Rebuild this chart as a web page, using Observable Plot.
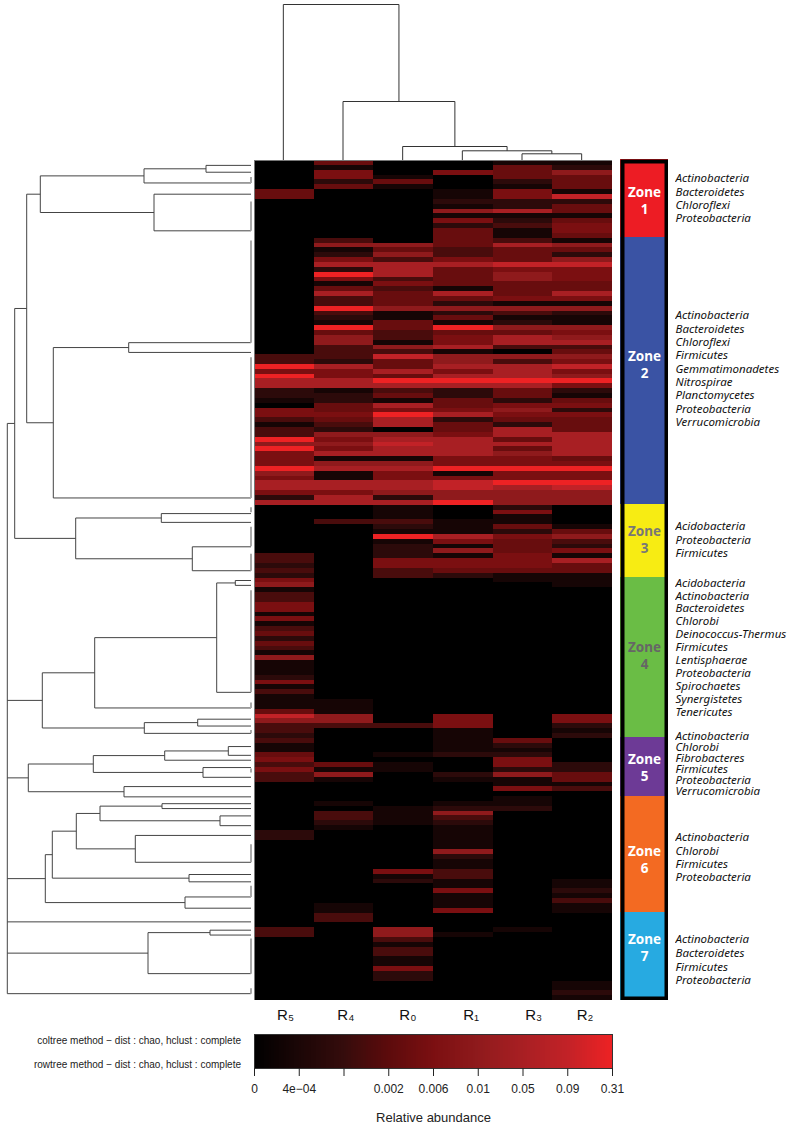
<!DOCTYPE html>
<html><head><meta charset="utf-8">
<script src="https://cdn.jsdelivr.net/npm/d3@7"></script>
<script src="https://cdn.jsdelivr.net/npm/@observablehq/plot@0.6"></script>
<style>
html,body{margin:0;padding:0;background:#fff}
#page{position:relative;width:792px;height:1130px;overflow:hidden;font-family:"Liberation Sans",Arial,sans-serif}
#page>svg,#page>figure{position:absolute;margin:0}
.note{position:absolute;font-size:10px;line-height:12px;color:#222;white-space:nowrap;text-align:right;width:241px;left:0}
</style></head><body><div id="page"></div>
<script>
// ---- values ----
const columns = ["R5","R4","R0","R1","R3","R2"];
const columnLabels = ["R₅","R₄","R₀","R₁","R₃","R₂"];
// tick values of the colour key (equally spaced along it)
const keyValues = [0,4e-4,0.001,0.002,0.006,0.01,0.05,0.09,0.31];
const keyLabels = ["0","4e−04","","0.002","0.006","0.01","0.05","0.09","0.31"];
const keyColors = ["#000000","#1b0606","#350c0c","#5c0b0c","#7b0f11","#8f1a1c","#a81f23","#c22227","#ee2224"];
// estimated abundance classes used in the row lists below
const abundanceClass = [0,3.2e-4,8e-4,0.0015,0.0035,0.006,0.01,0.05,0.09,0.31];

const R5 = [0,0,0,0,0,0,4,4,
0,0,0,0,0,0,0,0,0,0,0,0,0,0,0,0,0,0,0,0,0,0,0,0,0,0,0,0,0,0,0,0,
3,3,9,5,
9,7,7,2,2,1,0,5,5,3,1,3,3,9,6,9,5,5,5,9,6,5,7,7,5,2,7,
0,0,0,0,0,0,0,0,0,0,
3,3,2,3,2,5,6,
1,3,3,5,5,1,5,1,3,4,2,4,3,1,6,1,1,1,2,5,1,3,1,1,1,4,8,6,3,3,2,3,1,1,4,5,3,5,3,3,
0,0,0,0,0,0,0,0,0,0,
2,2,
0,0,0,0,0,0,0,0,0,0,0,0,0,0,0,0,0,0,
3,3,
0,0,0,0,0,0,0,0,0,0,0,0,0];
const R4 = [4,1,5,5,2,4,
0,0,0,0,0,0,0,0,0,0,
3,6,1,2,5,7,2,9,5,1,4,7,3,3,9,3,2,1,9,4,6,6,3,3,3,2,7,5,
5,7,7,1,2,2,4,4,5,4,3,2,6,5,6,5,7,1,6,7,1,1,7,7,5,7,7,
0,0,0,3,
0,0,0,0,0,0,0,0,0,0,0,0,0,0,0,0,0,0,0,0,0,0,0,0,0,0,0,0,0,0,0,0,0,0,0,0,
1,1,1,6,6,3,
0,0,0,0,0,0,0,
4,1,6,1,
0,0,0,0,1,0,3,3,2,1,
0,0,0,0,0,0,0,0,0,0,0,0,0,0,0,
1,1,3,3,
0,0,0,0,0,0,0,0,0,0,0,0,0,0,0,0];
const R0 = [0,0,0,1,4,1,
0,0,0,0,0,0,0,0,0,0,0,
6,4,6,3,7,7,7,3,5,3,4,4,4,6,1,1,4,4,3,3,1,6,3,8,4,4,7,
4,9,7,3,4,1,7,5,9,7,7,0,6,7,8,7,7,1,6,7,5,5,7,7,6,2,7,
1,1,1,3,2,1,9,1,2,2,2,5,5,3,3,
0,0,0,0,0,0,0,0,0,0,0,0,0,0,0,0,0,0,0,0,0,0,0,0,0,0,0,0,0,0,
3,0,0,0,0,0,1,0,1,1,
0,0,0,0,0,0,0,
1,1,1,1,
0,0,0,0,0,0,0,0,0,
5,1,2,
0,0,0,0,0,0,0,0,0,
6,6,3,1,3,3,1,1,5,2,2,
0,0,0,0];
const R1 = [0,0,5,0,0,0,1,1,2,1,6,1,5,2,4,4,4,4,3,3,5,7,4,4,4,4,1,7,4,2,6,2,4,1,9,4,5,5,7,1,6,6,7,5,
7,9,7,2,2,4,4,5,7,2,4,4,5,7,7,7,7,5,5,9,1,5,8,8,6,6,9,
0,0,0,1,1,1,7,5,1,6,1,5,5,4,2,
0,0,0,0,0,0,0,0,0,0,0,0,0,0,0,0,0,0,0,0,0,0,0,0,0,0,0,0,
5,5,5,1,1,1,1,1,2,
0,0,0,2,1,
0,0,0,0,
1,2,6,3,2,1,1,1,1,1,6,2,1,1,3,3,1,1,5,1,1,1,5,
0,0,0,0,1,
0,0,0,0,0,0,0,0,0,0,0,0,0];
const R3 = [1,4,4,4,2,1,5,5,2,2,7,1,2,3,1,1,3,7,4,4,4,8,5,6,6,4,4,4,5,1,6,3,1,2,6,4,7,7,3,0,6,3,7,7,
7,9,7,4,4,2,5,6,5,4,2,7,7,4,7,4,6,5,5,9,5,5,9,7,6,6,6,
2,5,1,1,4,2,5,4,4,4,5,5,5,4,1,1,
0,0,0,0,0,0,0,0,0,0,0,0,0,0,0,0,0,0,0,0,0,0,0,0,0,0,0,0,0,0,0,0,
4,2,1,2,5,5,2,6,1,1,5,0,1,1,2,
0,0,0,0,0,0,0,0,0,0,0,0,0,0,0,0,0,0,0,0,0,0,0,0,
1,
0,0,0,0,0,0,0,0,0,0,0,0,0,0];
const R2 = [1,2,6,4,4,4,1,8,2,4,4,1,4,5,5,4,1,6,4,2,6,8,5,5,5,4,4,7,5,1,6,2,1,1,6,5,6,7,3,4,6,5,8,5,
6,9,5,2,1,4,5,2,5,4,4,4,7,7,7,7,7,4,5,9,5,5,9,8,6,6,6,
0,0,0,0,1,4,6,3,2,5,1,7,4,4,1,1,1,
0,0,0,0,0,0,0,0,0,0,0,0,0,0,0,0,0,0,0,0,0,0,0,0,0,0,
5,5,2,1,2,
0,0,0,0,0,
2,2,4,4,1,3,
0,0,0,0,0,0,0,0,0,0,0,0,0,0,0,0,0,0,
1,1,2,1,3,1,1,
0,0,0,0,0,0,0,0,0,0,0,0,0,0,
1,1,2,1];

// column tree: [merge height, child, child]; a leaf is a column position
const columnTree = [156,0.5,[59,1.5,[14,2.5,[9.7,3.5,[6.7,4.5,5.5]]]]];
// row tree: [merge height, children...]; a leaf is a position along the rows
const rowTree = [243.7,
  [236.3,
    [224.3,
      [210.7,[107,[45,1.0,2.4],4.6],[97,6.9,14.4]],
      [197.7,[122.3,37.3,39.3],69.1]],
    [175.3,[89.7,72.3,74.1],[58.7,79.1,84.0]]],
  [208.7,
    [156.3,[34.3,[15.7,86.0,87.0],108.9],112.1],
    [106.7,[53.3,114.4,115.8],117.3]],
  [222.7,
    [157.7,[86.3,[22.7,120.0,121.8],122.8],[48,124.3,126.3]],
    [127,128.2,130.3]],
  [205.7,
    [198.7,
      [174.7,
        [151,[89,131.7,132.7],[31,134.2,136.2]],
        [115.7,138.2,143.7]],
      [62,146.2,147.7]],
    [66,150.8,153.1]],
  155.9,
  [103,[41,157.6,158.6],166.5],
  170.6];
// runs of rows whose leaves merge almost at height zero
const tightLeafRuns = [[3.4,4.6],[8.4,14.4],[16.4,37.3],[40.3,69.1],[71,72],[75,79],[80.5,84],[88,108.9],[111,112.1],[116.6,117.3],[124.5,125.3],[140,143.7],[148.5,150.8],[159.3,166.5],[169.5,170.6]];

const zoneNames = ["Zone\n1","Zone\n2","Zone\n3","Zone\n4","Zone\n5","Zone\n6","Zone\n7"];
const zoneEdges = [0,16,71,86,119,131,155,173];
const zoneCentres = [8.3,42,78,102,125,144,162];
const zoneColors = ["#ed1c24","#3a53a4","#f7ec13","#6abd45","#6d3a96","#f36a22","#27aae1"];
const zoneTextColors = ["#fff","#fff","#777","#666","#fff","#fff","#fff"];
const phylaZone1 = ["Actinobacteria","Bacteroidetes","Chloroflexi","Proteobacteria"];
const phylaZone2 = ["Actinobacteria","Bacteroidetes","Chloroflexi","Firmicutes","Gemmatimonadetes","Nitrospirae","Planctomycetes","Proteobacteria","Verrucomicrobia"];
const phylaZone3 = ["Acidobacteria","Proteobacteria","Firmicutes"];
const phylaZone4 = ["Acidobacteria","Actinobacteria","Bacteroidetes","Chlorobi","Deinococcus-Thermus","Firmicutes","Lentisphaerae","Proteobacteria","Spirochaetes","Synergistetes","Tenericutes"];
const phylaZone5 = ["Actinobacteria","Chlorobi","Fibrobacteres","Firmicutes","Proteobacteria","Verrucomicrobia"];
const phylaZone6 = ["Actinobacteria","Chlorobi","Firmicutes","Proteobacteria"];
const phylaZone7 = ["Actinobacteria","Bacteroidetes","Firmicutes","Proteobacteria"];
const phylaStart = [3.9,32.1,75.5,87.1,118.6,139.5,160.5];
const phylaStep = [2.76,2.75,2.78,2.66,2.26,2.75,2.81];

// ---- build ----
const page = document.getElementById("page");
function place(node,left,top){node.style.position="absolute";node.style.left=left+"px";node.style.top=top+"px";node.style.background="transparent";page.appendChild(node);}
const colorScale = {type:"linear",domain:keyValues,range:keyColors};
const nRows = R5.length;
const series = [R5,R4,R0,R1,R3,R2];
const cells = [];
series.forEach((vals,c)=>vals.forEach((k,r)=>cells.push({col:columns[c],row:r,value:abundanceClass[k]})));

// links of a dendrogram: each has height and position at both ends
function treeLinks(tree){
  const out=[];
  (function walk(n){
    if(typeof n==="number") return {p:n,h:0};
    const [h,...kids]=n;
    const placed=kids.map(walk);
    const ps=placed.map(d=>d.p);
    out.push({h1:h,h2:h,p1:d3.min(ps),p2:d3.max(ps)});
    placed.forEach(d=>out.push({h1:d.h,h2:h,p1:d.p,p2:d.p}));
    return {p:(ps[0]+ps[ps.length-1])/2,h};
  })(tree);
  return out;
}

// heat map
place(Plot.plot({width:358,height:840,margin:0,
  x:{domain:columns,padding:0,round:false,axis:null},
  y:{domain:d3.range(nRows),padding:0,round:false,axis:null},
  color:colorScale,
  marks:[
    Plot.cell(cells,{x:"col",y:"row",fill:"value",shapeRendering:"crispEdges"}),
    Plot.frame({stroke:"#777",strokeWidth:1})
  ]}),254,160);

// column tree
place(Plot.plot({width:358,height:160,marginLeft:0,marginRight:0,marginTop:4,marginBottom:0,
  x:{domain:[0,6],axis:null},
  y:{domain:[0,156],axis:null},
  marks:[Plot.link(treeLinks(columnTree),{x1:"p1",x2:"p2",y1:"h1",y2:"h2",stroke:"#333",strokeWidth:1})]
}),253,0);

// row tree
place(Plot.plot({width:254,height:840,marginLeft:0,marginRight:3,marginTop:0,marginBottom:0,
  x:{domain:[250.5,-0.5],axis:null},
  y:{domain:[0,172],axis:null,reverse:true},
  marks:[
    Plot.link(treeLinks(rowTree),{x1:"h1",x2:"h2",y1:"p1",y2:"p2",stroke:"#444",strokeWidth:1}),
    Plot.link(tightLeafRuns,{x1:()=>0,x2:()=>0,y1:d=>d[0],y2:d=>d[1],stroke:"#aaa",strokeWidth:2})
  ]}),0,160);

// column labels
place(Plot.plot({width:358,height:30,margin:0,
  x:{domain:[0,6],axis:null},y:{domain:[0,1],axis:null},
  marks:[Plot.text(columnLabels,{x:(d,i)=>i+0.5+[0.02,0.03,0.07,0.13,0.18,0.04][i],y:()=>0.5,text:d=>d,fontSize:15,fill:"#111",fontFamily:"Liberation Sans"})]
}),254,1000);

// zone bar
const zones = zoneNames.map((name,i)=>({name,y1:zoneEdges[i],y2:zoneEdges[i+1],mid:zoneCentres[i],fill:zoneColors[i],ink:zoneTextColors[i]}));
place(Plot.plot({width:48,height:841,margin:0,
  x:{domain:[0,1],axis:null},
  y:{domain:[0,nRows],axis:null,reverse:true},
  marks:[
    Plot.rect(zones,{x1:()=>0,x2:()=>1,y1:"y1",y2:"y2",fill:"fill",shapeRendering:"crispEdges"}),
    Plot.frame({stroke:"#000",strokeWidth:4,inset:2}),
    Plot.text(zones,{x:()=>0.5,y:"mid",text:"name",fill:"ink",fontSize:13.5,fontWeight:"bold",lineHeight:1.25,fontFamily:"Noto Sans"})
  ]}),620,159);

// phyla lists
const phylaLists=[phylaZone1,phylaZone2,phylaZone3,phylaZone4,phylaZone5,phylaZone6,phylaZone7];
const phyla=phylaLists.flatMap((names,z)=>names.map((name,i)=>({name,row:phylaStart[z]+i*phylaStep[z]})));
place(Plot.plot({width:117,height:841,margin:0,
  x:{domain:[0,1],axis:null},
  y:{domain:[0,nRows],axis:null,reverse:true},
  marks:[Plot.text(phyla,{x:()=>0,y:"row",text:"name",textAnchor:"start",fontStyle:"italic",fontSize:11.5,fill:"#111",fontFamily:"Noto Sans"})]
}),675,159);

// colour key
const keyPosition = d3.scaleLinear(d3.range(keyValues.length),keyValues);
const keySteps = d3.range(0,8,8/144).map(p=>({p,q:p+8/144,value:keyPosition(p+4/144)}));
place(Plot.plot({width:792,height:100,marginLeft:254,marginRight:180,marginTop:4,marginBottom:62,
  style:{fontFamily:"Liberation Sans",fontSize:"12px",color:"#222"},
  x:{domain:[0,8],label:null},
  y:{domain:[0,1],axis:null},
  color:colorScale,
  marks:[
    Plot.rect(keySteps,{x1:"p",x2:"q",y1:()=>0,y2:()=>1,fill:"value",shapeRendering:"crispEdges"}),
    Plot.frame({stroke:"#333"}),
    Plot.axisX(d3.range(9),{anchor:"bottom",tickSize:8,tickPadding:8,tickFormat:i=>keyLabels[i],label:null,fontSize:12}),
    Plot.text(["Relative abundance"],{frameAnchor:"bottom",dy:53,fontSize:13,fill:"#222",fontFamily:"Liberation Sans"})
  ]}),0,1030);

// method notes
[["coltree method − dist : chao, hclust : complete",1035],["rowtree method − dist : chao, hclust : complete",1059]].forEach(([t,top])=>{
  const d=document.createElement("div");d.className="note";d.textContent=t;d.style.top=top+"px";page.appendChild(d);
});
</script></body></html>
